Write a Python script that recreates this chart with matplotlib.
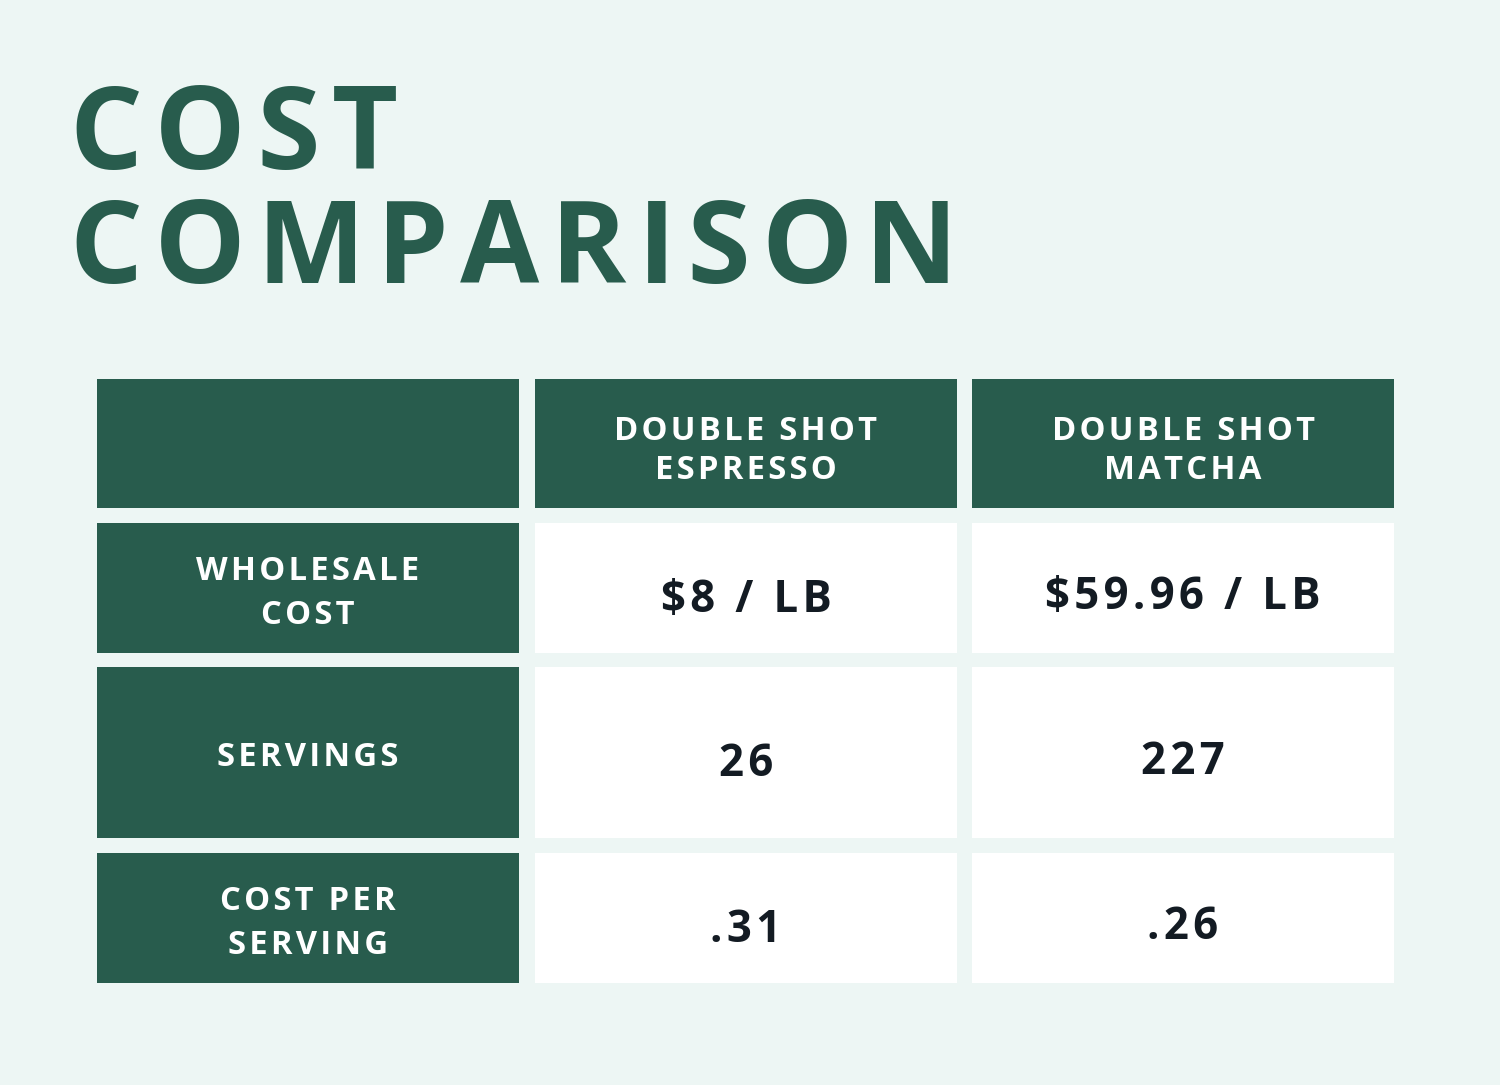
import matplotlib
matplotlib.use('Agg')
import matplotlib.pyplot as plt
from matplotlib.patches import Rectangle

# table content
title_lines = ["COST", "COMPARISON"]
col_heads = ["", "DOUBLE SHOT\nESPRESSO", "DOUBLE SHOT\nMATCHA"]
row_heads = ["WHOLESALE\nCOST", "SERVINGS", "COST PER\nSERVING"]
espresso = ["$8 / LB", "26", ".31"]
matcha = ["$59.96 / LB", "227", ".26"]

GREEN = '#285c4d'
BG = '#edf6f4'
INK = '#131b23'
FONT = ['Open Sans', 'DejaVu Sans']

# layout in pixels (figure is 1500 x 1085)
col_x = [97, 535, 972]
col_w = 422
row_y = [379, 523, 667, 853]
row_h = [129, 130, 171, 130]


def track(s):
	# letter spacing by hair spaces between characters
	return '\u200a'.join(s)


fig = plt.figure(figsize=(15, 10.85), dpi=100)
fig.patch.set_facecolor(BG)
ax = fig.add_axes([0, 0, 1, 1])
ax.set_xlim(0, 1500)
ax.set_ylim(1085, 0)
ax.axis('off')

# title
for i, line in enumerate(title_lines):
	ax.text(70, 169 + i * 114, track(line), fontsize=82.5, fontweight='bold',
		color=GREEN, family=FONT, ha='left', va='baseline')


def label(cx, cy, s, pitch, color, size, dy):
	lines = s.split('\n')
	n = len(lines)
	for k, ln in enumerate(lines):
		y = cy + dy + (k - (n - 1) / 2) * pitch
		ax.text(cx, y, track(ln), fontsize=size, fontweight='bold', color=color,
			family=FONT, ha='center', va='baseline')


# header row
for c in range(3):
	ax.add_patch(Rectangle((col_x[c], row_y[0]), col_w, row_h[0], color=GREEN, lw=0))
	if col_heads[c]:
		label(col_x[c] + col_w / 2, row_y[0] + row_h[0] / 2, col_heads[c], 39, 'white', 23.6, 16)

# body rows
values = [espresso, matcha]
val_dy = [24, 21]
for r in range(3):
	y0 = row_y[r + 1]
	h = row_h[r + 1]
	cy = y0 + h / 2
	ax.add_patch(Rectangle((col_x[0], y0), col_w, h, color=GREEN, lw=0))
	label(col_x[0] + col_w / 2, cy, row_heads[r], 44, 'white', 23.6, 14)
	for c in range(2):
		ax.add_patch(Rectangle((col_x[c + 1], y0), col_w, h, color='white', lw=0))
		label(col_x[c + 1] + col_w / 2, cy, values[c][r], 0, INK, 31.5, val_dy[c])

fig.savefig('out.png', dpi=100, facecolor=BG)
